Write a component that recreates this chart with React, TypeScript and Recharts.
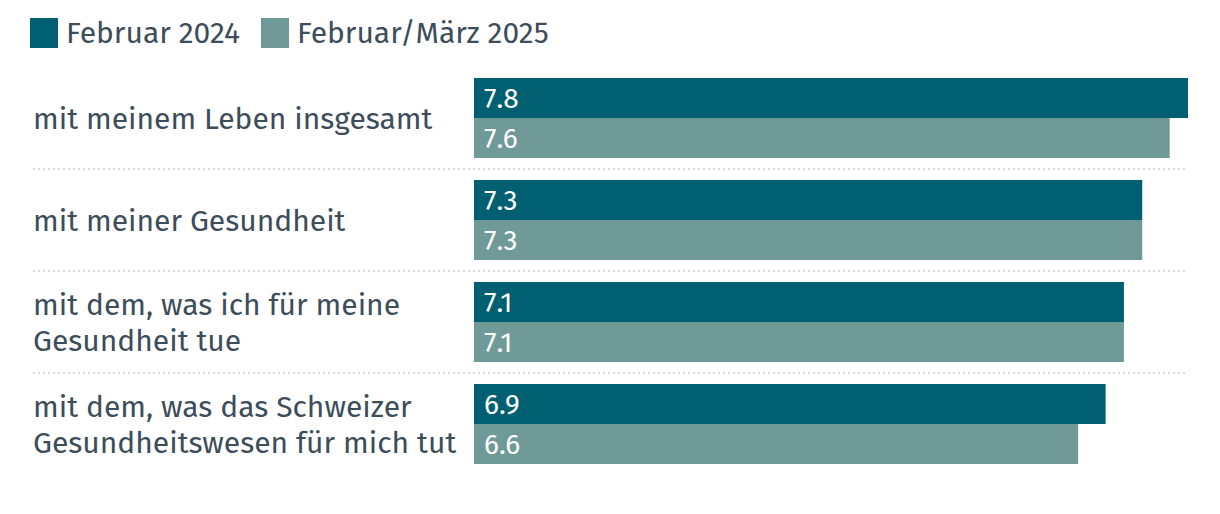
import { BarChart, Bar, XAxis, YAxis, LabelList } from 'recharts'

const categories = [
  'mit meinem Leben insgesamt',
  'mit meiner Gesundheit',
  'mit dem, was ich für meine|Gesundheit tue',
  'mit dem, was das Schweizer|Gesundheitswesen für mich tut',
]
const series2024 = [7.8, 7.3, 7.1, 6.9]
const series2025 = [7.6, 7.3, 7.1, 6.6]
const seriesNames = ['Februar 2024', 'Februar/März 2025']

const DARK = '#006072'
const LIGHT = '#6f9a98'
const TEXT = '#3d4d5a'
const FONT = '"Fira Sans", "Open Sans", sans-serif'

const data = categories.map((name, i) => ({
  name,
  a: series2024[i],
  b: series2025[i],
}))

function CategoryTick(props: any) {
  const { y, payload, index } = props
  const lines = String(payload.value).split('|')
  const lineHeight = 36
  const startY = y - ((lines.length - 1) * lineHeight) / 2 + 10.5
  const bandHalf = payload.offset || 0
  return (
    <g>
      <text x={33} y={startY} textAnchor="start" fill={TEXT} fontSize={30} fontFamily={FONT}>
        {lines.map((l, i) => (
          <tspan key={i} x={33} y={startY + i * lineHeight}>
            {l}
          </tspan>
        ))}
      </text>
      {index < categories.length - 1 ? (
        <line
          x1={33}
          x2={1188}
          y1={y + bandHalf}
          y2={y + bandHalf}
          stroke="#d9d9d9"
          strokeWidth={2}
          strokeDasharray="2 3"
        />
      ) : null}
    </g>
  )
}

function ChartLegend() {
  const colors = [DARK, LIGHT]
  return (
    <div
      style={{
        position: 'absolute',
        top: 18,
        left: 30,
        display: 'flex',
        alignItems: 'center',
        height: 30,
        fontFamily: FONT,
      }}
    >
      {seriesNames.map((n, i) => (
        <div key={n} style={{ display: 'flex', alignItems: 'center', marginRight: 21 }}>
          <span
            style={{
              display: 'inline-block',
              width: 28,
              height: 30,
              background: colors[i],
              marginRight: 8,
            }}
          />
          <span style={{ fontSize: 30, lineHeight: '30px', color: TEXT }}>{n}</span>
        </div>
      ))}
    </div>
  )
}

export default function App() {
  return (
    <div style={{ position: 'relative', width: 1220, height: 514, background: '#fff' }}>
      <style>{'body{margin:0}'}</style>
      <ChartLegend />
      <BarChart
        width={1220}
        height={514}
        data={data}
        layout="vertical"
        margin={{ top: 67, right: 32, bottom: 39, left: 0 }}
        barCategoryGap={11}
        barGap={0}
      >
        <XAxis type="number" domain={[0, 7.8]} hide />
        <YAxis
          type="category"
          dataKey="name"
          width={474}
          axisLine={false}
          tickLine={false}
          tick={<CategoryTick />}
          interval={0}
        />
        <Bar dataKey="a" name={seriesNames[0]} fill={DARK} isAnimationActive={false}>
          <LabelList
            dataKey="a"
            position="insideLeft"
            offset={10}
            fill="#fff"
            fontSize={28}
            fontFamily={FONT}
            formatter={(v: any) => Number(v).toFixed(1)}
          />
        </Bar>
        <Bar dataKey="b" name={seriesNames[1]} fill={LIGHT} isAnimationActive={false}>
          <LabelList
            dataKey="b"
            position="insideLeft"
            offset={10}
            fill="#fff"
            fontSize={28}
            fontFamily={FONT}
            formatter={(v: any) => Number(v).toFixed(1)}
          />
        </Bar>
      </BarChart>
    </div>
  )
}
